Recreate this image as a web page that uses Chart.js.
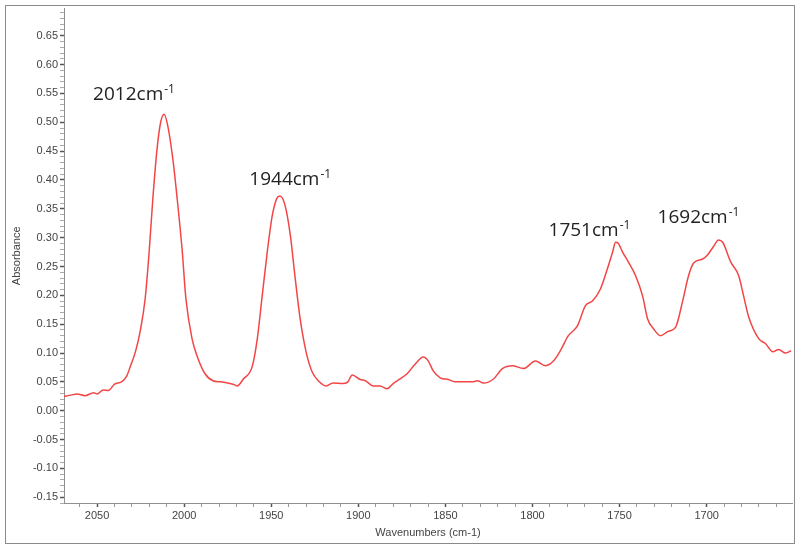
<!DOCTYPE html>
<html>
<head>
<meta charset="utf-8">
<script src="https://cdn.jsdelivr.net/npm/chart.js@4"></script>
<style>
  html, body { margin: 0; padding: 0; background: #fff; }
  #wrap { width: 800px; height: 549px; position: relative; }
</style>
</head>
<body>
<div id="wrap"><canvas id="chart" width="800" height="549"></canvas></div>
<script>
// spectrum (wavenumber, absorbance)
const wavenumbers = [
  2069, 2065, 2061.5, 2057, 2052, 2050, 2046.5, 2043.5, 2040, 2036, 2033, 2031, 2028, 2025.3, 2022.4,
  2020, 2018, 2015.6, 2013.5, 2011.5, 2009.5, 2006.5, 2004, 2001.2, 1999, 1995.5, 1992.6, 1988, 1983.5,
  1979, 1975, 1972, 1969.5, 1966, 1961, 1958, 1955.2, 1952.3, 1949.5, 1946.8, 1945, 1942, 1939, 1936.2,
  1933.4, 1930, 1926.5, 1923, 1918.5, 1914.5, 1909, 1906, 1903.5, 1899, 1896, 1891.5, 1887.5, 1883.5,
  1880, 1876, 1872, 1867.3, 1862.7, 1859.8, 1857, 1853, 1848.3, 1844.3, 1838.5, 1834.5, 1831.6, 1828.2,
  1822.4, 1817.3, 1811.5, 1805.2, 1798.3, 1792.6, 1788, 1784, 1779.4, 1774.2, 1769.6, 1765.6, 1761,
  1757, 1754, 1752.3, 1751, 1748.3, 1745, 1740.8, 1736.8, 1733.9, 1730.5, 1726.5, 1722.4, 1717.8,
  1713.8, 1710.4, 1707.5, 1702.3, 1699.5, 1696, 1693.2, 1690.8, 1686.2, 1681.6, 1678.8, 1675.9, 1670.1,
  1666.1, 1662, 1658.7, 1654.6, 1651.5
];
const absorbance = [
  0.025, 0.027, 0.029, 0.026, 0.031, 0.029, 0.036, 0.035, 0.046, 0.050, 0.060, 0.076, 0.102, 0.137, 0.194,
  0.280, 0.367, 0.453, 0.500, 0.514, 0.495, 0.436, 0.367, 0.280, 0.194, 0.125, 0.095, 0.064, 0.052,
  0.050, 0.048, 0.046, 0.043, 0.055, 0.076, 0.125, 0.199, 0.275, 0.337, 0.368, 0.372, 0.355, 0.303, 0.228,
  0.159, 0.102, 0.067, 0.052, 0.043, 0.048, 0.047, 0.050, 0.062, 0.054, 0.052, 0.043, 0.043, 0.038,
  0.047, 0.055, 0.064, 0.081, 0.093, 0.086, 0.069, 0.057, 0.054, 0.050, 0.050, 0.050, 0.052, 0.048,
  0.055, 0.073, 0.078, 0.073, 0.086, 0.078, 0.086, 0.104, 0.130, 0.147, 0.182, 0.190, 0.211,
  0.246, 0.275, 0.292, 0.291, 0.275, 0.258, 0.234, 0.199, 0.159, 0.142, 0.130, 0.137, 0.145,
  0.190, 0.234, 0.256, 0.263, 0.270, 0.285, 0.296, 0.292, 0.258, 0.234, 0.199, 0.163, 0.125,
  0.116, 0.102, 0.106, 0.100, 0.104
];

// peak labels, anchored in data units (left edge / baseline)
const peakNames = ['2012', '1944', '1751', '1692'];
const peakLabelX = [2052.3, 1962.6, 1790.8, 1728.2];
const peakLabelY = [0.538, 0.391, 0.303, 0.326];

const xRange = [1651, 2069];
const yRange = [-0.16, 0.697];

const points = wavenumbers.map((w, i) => ({x: w, y: absorbance[i]}));

const frame = {
    id: 'frame',
    beforeDraw(chart) {
        const c = chart.ctx;
        c.save();
        c.fillStyle = '#fff';
        c.fillRect(0, 0, chart.width, chart.height);
        c.strokeStyle = '#8a8a8a';
        c.lineWidth = 1;
        c.strokeRect(5.5, 5.5, chart.width - 11, chart.height - 11);
        c.restore();
    }
};

const peakText = {
    id: 'peakText',
    afterDatasetsDraw(chart) {
        const c = chart.ctx;
        const xs = chart.scales.x, ys = chart.scales.y;
        c.save();
        c.fillStyle = '#222';
        c.textBaseline = 'alphabetic';
        c.textAlign = 'left';
        peakNames.forEach((name, i) => {
            const px = xs.getPixelForValue(peakLabelX[i]);
            const py = ys.getPixelForValue(peakLabelY[i]);
            c.font = '19px "Open Sans"';
            const main = name + 'cm';
            c.fillText(main, px, py);
            const w = c.measureText(main).width;
            c.font = '12px "Open Sans"';
            c.fillText('-1', px + w + 1, py - 7);
        });
        c.restore();
    }
};

const tickFont = {family: '"Liberation Sans", Arial, sans-serif', size: 11};

new Chart(document.getElementById('chart'), {
    type: 'line',
    plugins: [frame, peakText],
    data: {
        datasets: [{
            data: points,
            borderColor: '#f24646',
            borderWidth: 1.5,
            pointRadius: 0,
            fill: false,
            cubicInterpolationMode: 'monotone'
        }]
    },
    options: {
        responsive: false,
        animation: false,
        events: [],
        layout: {padding: {left: 6, right: 8, top: 8, bottom: 6}},
        plugins: {legend: {display: false}, tooltip: {enabled: false}},
        scales: {
            x: {
                type: 'linear',
                reverse: true,
                min: xRange[0],
                max: xRange[1],
                afterFit: s => { s.height = 40; },
                border: {color: '#8f8f8f'},
                grid: {
                    drawOnChartArea: false,
                    tickLength: 4,
                    tickColor: ctx => ctx.tick && Math.round(ctx.tick.value) % 50 === 0 ? '#555' : '#999',
                    tickWidth: ctx => ctx.tick && Math.round(ctx.tick.value) % 50 === 0 ? 1.5 : 1
                },
                ticks: {
                    stepSize: 10,
                    includeBounds: false,
                    autoSkip: false,
                    maxRotation: 0,
                    padding: 2,
                    color: '#444',
                    font: tickFont,
                    callback: v => Math.round(v) % 50 === 0 ? String(Math.round(v)) : ''
                },
                title: {
                    display: true,
                    text: 'Wavenumbers (cm-1)',
                    color: '#444',
                    font: tickFont,
                    padding: {top: 0, bottom: 3}
                }
            },
            y: {
                min: yRange[0],
                max: yRange[1],
                afterFit: s => { s.width = 58; },
                border: {color: '#8f8f8f'},
                grid: {
                    drawOnChartArea: false,
                    tickLength: 4,
                    tickColor: ctx => ctx.tick && Math.round(ctx.tick.value * 100) % 5 === 0 ? '#555' : '#aaa',
                    tickWidth: ctx => ctx.tick && Math.round(ctx.tick.value * 100) % 5 === 0 ? 1.5 : 1
                },
                ticks: {
                    stepSize: 0.01,
                    includeBounds: false,
                    autoSkip: false,
                    padding: 2,
                    color: '#444',
                    font: tickFont,
                    callback: v => Math.round(v * 100) % 5 === 0 ? v.toFixed(2) : ''
                },
                title: {
                    display: true,
                    text: 'Absorbance',
                    color: '#444',
                    font: tickFont,
                    padding: {top: 4, bottom: 0}
                }
            }
        }
    }
});
</script>
</body>
</html>
